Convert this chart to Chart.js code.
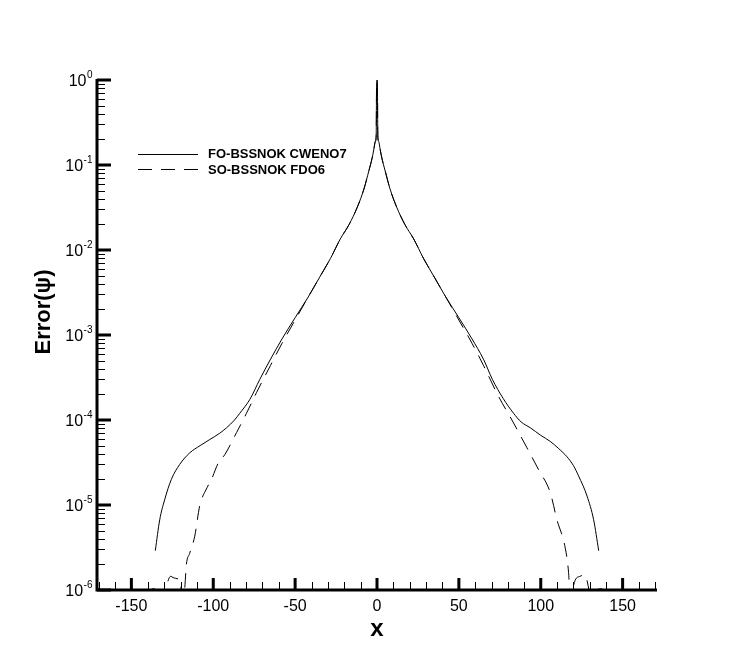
<!DOCTYPE html>
<html>
<head>
<meta charset="utf-8">
<title>Error(psi)</title>
<script src="https://cdn.jsdelivr.net/npm/chart.js@4.4.1/dist/chart.umd.min.js"></script>
<style>
  html, body { margin: 0; padding: 0; background: #fff; }
  #wrap { width: 747px; height: 665px; }
</style>
</head>
<body>
<div id="wrap"><canvas id="errChart" width="747" height="665"></canvas></div>
<script>
// FO-BSSNOK CWENO7 (solid)
const foX = [-135.4, -132.7, -129.7, -125.6, -120.5, -114.4, -108, -102.1, -96, -91.9, -87, -83.8, -77.7, -71.6, -65, -58, -50, -42, -35, -28.5, -22.4, -17, -12, -8, -5, -3, -2, -1, -0.5, -0.25, 0,
             0.25, 0.5, 1, 2, 3, 5, 8, 12, 17, 22.4, 28.5, 35, 42, 50, 58, 65, 70.5, 77, 83.4, 88, 93.6, 100, 105.8, 111, 116, 120, 123.1, 128.3, 132.3, 135.4];
const foY = [2.9e-6, 6.7e-6, 1.15e-5, 2.0e-5, 3.0e-5, 4.1e-5, 5.0e-5, 5.9e-5, 7.0e-5, 8.1e-5, 1.0e-4, 1.2e-4, 1.74e-4, 3.0e-4, 5.2e-4, 9.0e-4, 1.6e-3, 2.8e-3, 4.8e-3, 7.9e-3, 0.0135, 0.02, 0.032, 0.052, 0.085, 0.12, 0.15, 0.19, 0.22, 0.9, 1.0,
             0.9, 0.22, 0.19, 0.15, 0.12, 0.085, 0.052, 0.032, 0.02, 0.0135, 7.9e-3, 4.8e-3, 2.8e-3, 1.6e-3, 9.0e-4, 5.2e-4, 3.0e-4, 1.8e-4, 1.2e-4, 9.5e-5, 8.1e-5, 6.6e-5, 5.6e-5, 4.6e-5, 3.7e-5, 2.9e-5, 2.2e-5, 1.27e-5, 6.7e-6, 2.9e-6];

// SO-BSSNOK FDO6 (dashed)
const soX = [-140, -138, -137.5, -135.5, -135, -130, -128.6, -126, -124.5, -121.5, -120.3, -119.3, -118.3, -117.5, -116.4, -114.4, -111.3, -108.3, -103.8, -101.1, -97, -93, -85.8, -79.7, -73.6, -65, -58, -50, -42, -35, -28.5, -22.4, -17, -12, -8, -5, -3, -2, -1, -0.5, -0.25, 0,
             0.25, 0.5, 1, 2, 3, 5, 8, 12, 17, 22.4, 28.5, 35, 42, 50, 58, 65, 74.2, 82.4, 91.6, 98.7, 105.8, 109.9, 115, 117, 117.8, 118.8, 119.5, 121, 124, 127, 129.5, 130.5, 134.5, 135.3, 137.5, 138, 140];
const soY = [8e-7, 9e-7, 1.03e-6, 1.03e-6, 9e-7, 8e-7, 1.1e-6, 1.45e-6, 1.4e-6, 1.35e-6, 1.3e-6, 9e-7, 8e-7, 1.0e-6, 2.0e-6, 2.7e-6, 4.3e-6, 9.7e-6, 1.6e-5, 2.0e-5, 3.1e-5, 3.9e-5, 7.1e-5, 1.2e-4, 2.1e-4, 4.4e-4, 8.0e-4, 1.5e-3, 2.8e-3, 4.8e-3, 7.9e-3, 0.0135, 0.02, 0.032, 0.052, 0.085, 0.12, 0.15, 0.19, 0.22, 0.9, 1.0,
             0.9, 0.22, 0.19, 0.15, 0.12, 0.085, 0.052, 0.032, 0.02, 0.0135, 7.9e-3, 4.8e-3, 2.8e-3, 1.5e-3, 8.0e-4, 4.4e-4, 1.9e-4, 1.0e-4, 4.7e-5, 2.6e-5, 1.4e-5, 6.7e-6, 3.1e-6, 1.6e-6, 9e-7, 8e-7, 1.0e-6, 1.3e-6, 1.45e-6, 1.5e-6, 1.0e-6, 8e-7, 9e-7, 1.03e-6, 1.03e-6, 9e-7, 8e-7];

const xTicks = [-150, -100, -50, 0, 50, 100, 150];
const yExponents = [0, -1, -2, -3, -4, -5, -6];
const seriesNames = ["FO-BSSNOK CWENO7", "SO-BSSNOK FDO6"];

const FONT = '"Liberation Sans", Arial, Helvetica, sans-serif';

// axes, ticks, labels and legend drawn Tecplot style (ticks pointing inward)
const tecplotFrame = {
    id: "tecplotFrame",
    afterDraw(chart) {
        const ctx = chart.ctx;
        const area = chart.chartArea;
        const xs = chart.scales.x;
        const ys = chart.scales.y;
        ctx.save();
        ctx.strokeStyle = "#000";
        ctx.fillStyle = "#000";

        // minor ticks, x
        ctx.lineWidth = 1;
        ctx.beginPath();
        for (let v = -170; v <= 170; v += 10) {
            if (v % 50 === 0) continue;
            const px = Math.round(xs.getPixelForValue(v)) + 0.5;
            ctx.moveTo(px, area.bottom);
            ctx.lineTo(px, area.bottom - 8);
        }
        // minor ticks, y
        yExponents.forEach(e => {
            if (e === 0) return;
            for (let k = 2; k <= 9; k++) {
                const py = Math.round(ys.getPixelForValue(k * Math.pow(10, e))) + 0.5;
                ctx.moveTo(area.left, py);
                ctx.lineTo(area.left + 8, py);
            }
        });
        ctx.stroke();

        // major ticks
        ctx.lineWidth = 3;
        ctx.beginPath();
        xTicks.forEach(v => {
            const px = xs.getPixelForValue(v);
            ctx.moveTo(px, area.bottom);
            ctx.lineTo(px, area.bottom - 12);
        });
        yExponents.forEach(e => {
            const py = ys.getPixelForValue(Math.pow(10, e));
            ctx.moveTo(area.left, py);
            ctx.lineTo(area.left + 14, py);
        });
        ctx.stroke();

        // axis lines
        ctx.lineWidth = 3;
        ctx.beginPath();
        ctx.moveTo(area.left, area.top - 1);
        ctx.lineTo(area.left, area.bottom);
        ctx.lineTo(area.right, area.bottom);
        ctx.stroke();

        // x tick labels
        ctx.font = "16px " + FONT;
        ctx.textAlign = "center";
        ctx.textBaseline = "top";
        xTicks.forEach(v => {
            ctx.fillText(String(v), xs.getPixelForValue(v), area.bottom + 9);
        });

        // y tick labels 10^e
        ctx.textAlign = "left";
        ctx.textBaseline = "alphabetic";
        yExponents.forEach(e => {
            const py = ys.getPixelForValue(Math.pow(10, e));
            ctx.font = "16px " + FONT;
            const w1 = ctx.measureText("10").width;
            ctx.font = "10px " + FONT;
            const sup = String(e);
            const w2 = ctx.measureText(sup).width;
            const x0 = area.left - 5 - w1 - w2;
            ctx.font = "16px " + FONT;
            ctx.fillText("10", x0, py + 6);
            ctx.font = "10px " + FONT;
            ctx.fillText(sup, x0 + w1 + 0.5, py - 2);
        });

        // axis titles
        ctx.font = "bold 24px " + FONT;
        ctx.textAlign = "center";
        ctx.textBaseline = "middle";
        ctx.fillText("x", (area.left + area.right) / 2, 629);
        ctx.save();
        ctx.translate(44, 312);
        ctx.rotate(-Math.PI / 2);
        ctx.font = "bold 22px " + FONT;
        ctx.fillText("Error(\u03C8)", 0, 0);
        ctx.restore();

        // legend
        ctx.font = "bold 13px " + FONT;
        ctx.textAlign = "left";
        ctx.textBaseline = "middle";
        chart.data.datasets.forEach((ds, i) => {
            const ly = 153.5 + i * 15.5;
            ctx.lineWidth = ds.borderWidth;
            ctx.setLineDash(ds.borderDash || []);
            ctx.beginPath();
            ctx.moveTo(138, Math.round(ly) + 0.5);
            ctx.lineTo(198, Math.round(ly) + 0.5);
            ctx.stroke();
            ctx.setLineDash([]);
            ctx.fillText(ds.label, 208, ly + 1);
        });
        ctx.restore();
    }
};

const toPoints = (xArr, yArr) => xArr.map((x, i) => ({ x: x, y: yArr[i] }));

new Chart(document.getElementById("errChart"), {
    type: "line",
    data: {
        datasets: [{
            label: seriesNames[0],
            data: toPoints(foX, foY),
            borderColor: "#000",
            borderWidth: 1,
            pointRadius: 0,
            cubicInterpolationMode: "monotone"
        }, {
            label: seriesNames[1],
            data: toPoints(soX, soY),
            borderColor: "#000",
            borderWidth: 1,
            borderDash: [14, 9],
            pointRadius: 0,
            cubicInterpolationMode: "monotone"
        }]
    },
    options: {
        responsive: false,
        animation: false,
        layout: { padding: { top: 80, right: 90, left: 0, bottom: 0 } },
        plugins: {
            legend: { display: false },
            tooltip: { enabled: false }
        },
        scales: {
            x: {
                type: "linear",
                min: -171,
                max: 171,
                grid: { display: false },
                border: { display: false },
                ticks: { display: false },
                afterFit: scale => { scale.height = 75; }
            },
            y: {
                type: "logarithmic",
                min: 1e-6,
                max: 1,
                grid: { display: false },
                border: { display: false },
                ticks: { display: false },
                afterFit: scale => { scale.width = 97; }
            }
        }
    },
    plugins: [tecplotFrame]
});
</script>
</body>
</html>
